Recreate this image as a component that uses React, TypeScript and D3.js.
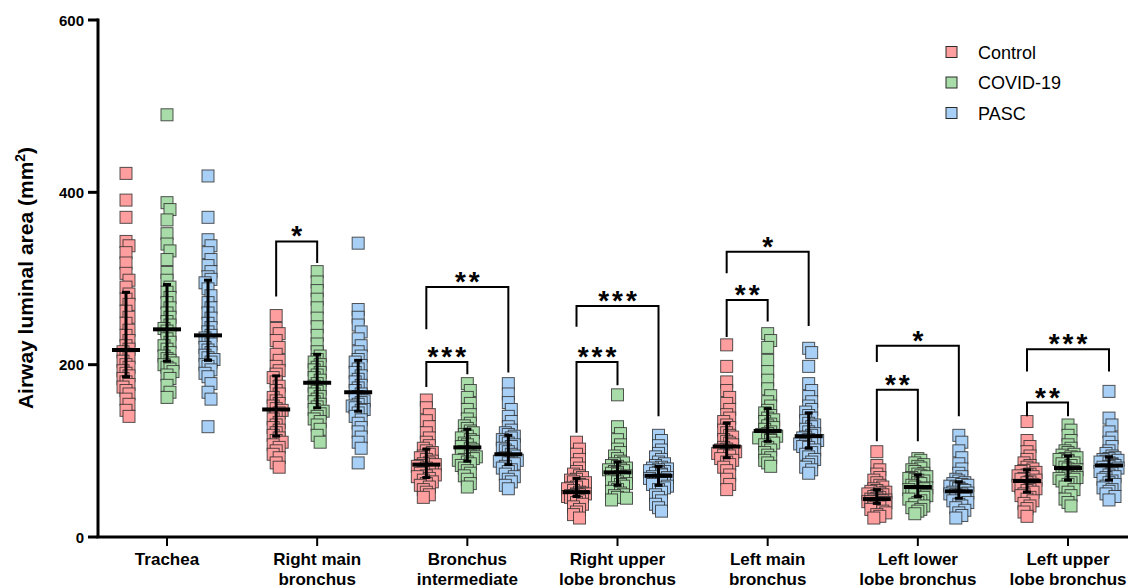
import React, { useRef, useEffect } from 'react';
import * as d3 from 'd3';

const categories = [
  'Trachea',
  'Right main\nbronchus',
  'Bronchus\nintermediate',
  'Right upper\nlobe bronchus',
  'Left main\nbronchus',
  'Left lower\nlobe bronchus',
  'Left upper\nlobe bronchus',
];
const groups = ['Control', 'COVID-19', 'PASC'];
const groupColors = ['#FF9E9E', '#A8DCA8', '#A8D0F6'];
const yTicks = [0, 200, 400, 600];

// individual values, one list per airway
const controlValues = [
  [422, 391, 371, 343, 338, 330, 318, 306, 298, 290, 282, 276, 270, 262, 255, 248, 240, 234, 228, 222, 218, 215, 212, 208, 204, 200, 197, 193, 190, 187, 184, 180, 177, 174, 170, 166, 160, 154, 147, 140],
  [257, 242, 236, 228, 220, 212, 205, 198, 193, 189, 185, 180, 175, 170, 166, 162, 158, 155, 152, 149, 147, 144, 140, 137, 133, 130, 127, 124, 121, 118, 115, 112, 110, 107, 104, 100, 96, 92, 86, 81],
  [159, 150, 142, 135, 128, 121, 115, 110, 106, 103, 100, 98, 96, 94, 92, 90, 88, 86, 85, 84, 83, 82, 80, 78, 77, 75, 74, 72, 71, 70, 68, 66, 64, 62, 60, 58, 55, 52, 49, 46],
  [110, 102, 96, 90, 85, 80, 76, 73, 71, 69, 67, 66, 64, 63, 61, 60, 58, 57, 56, 54, 52, 51, 50, 50, 49, 49, 48, 48, 47, 47, 46, 44, 42, 40, 38, 35, 32, 29, 26, 22],
  [223, 198, 180, 170, 162, 155, 148, 142, 138, 134, 130, 127, 124, 121, 118, 116, 113, 111, 109, 107, 104, 102, 101, 100, 99, 98, 97, 96, 95, 94, 91, 89, 87, 84, 81, 77, 72, 67, 61, 55],
  [99, 83, 78, 73, 69, 66, 63, 60, 58, 56, 54, 53, 52, 51, 50, 49, 48, 47, 46, 45, 44, 43, 43, 42, 42, 41, 41, 40, 40, 39, 38, 36, 35, 34, 32, 30, 28, 26, 24, 22],
  [134, 112, 105, 99, 94, 90, 86, 83, 81, 79, 77, 76, 75, 73, 72, 71, 70, 68, 67, 66, 64, 63, 61, 60, 59, 57, 56, 55, 54, 52, 50, 48, 46, 44, 42, 39, 36, 33, 29, 24],
];
const covidValues = [
  [490, 388, 380, 368, 352, 340, 332, 322, 307, 298, 290, 284, 278, 272, 266, 260, 255, 250, 246, 242, 239, 235, 230, 226, 222, 218, 214, 210, 207, 205, 202, 200, 197, 195, 192, 188, 184, 176, 168, 162],
  [308, 296, 286, 276, 266, 254, 244, 234, 224, 215, 210, 206, 203, 200, 197, 194, 191, 188, 185, 182, 178, 175, 172, 169, 166, 163, 160, 157, 154, 151, 148, 146, 143, 140, 137, 134, 130, 125, 118, 110],
  [178, 170, 162, 155, 148, 142, 137, 132, 129, 126, 123, 121, 119, 117, 115, 113, 111, 109, 107, 105, 103, 101, 99, 97, 96, 94, 93, 91, 90, 89, 87, 85, 83, 80, 77, 74, 71, 67, 62, 58],
  [165, 128, 120, 113, 107, 102, 98, 94, 91, 88, 86, 85, 83, 82, 80, 79, 78, 77, 76, 75, 74, 73, 71, 70, 68, 67, 65, 64, 62, 61, 59, 57, 55, 53, 51, 49, 48, 46, 45, 43],
  [236, 228, 220, 205, 192, 182, 172, 164, 157, 152, 147, 144, 141, 138, 136, 134, 131, 129, 127, 125, 122, 120, 119, 118, 117, 116, 115, 114, 113, 112, 109, 107, 104, 101, 98, 95, 92, 89, 86, 82],
  [91, 89, 86, 84, 82, 80, 78, 76, 74, 73, 71, 70, 69, 68, 67, 66, 65, 63, 62, 60, 58, 57, 56, 55, 53, 52, 51, 50, 49, 48, 46, 44, 42, 40, 38, 36, 34, 32, 30, 27],
  [130, 124, 118, 112, 107, 103, 100, 98, 96, 95, 93, 92, 91, 90, 89, 88, 86, 85, 83, 81, 79, 78, 76, 75, 73, 72, 70, 69, 68, 67, 65, 63, 61, 58, 55, 52, 48, 44, 40, 36],
];
const pascValues = [
  [419, 371, 345, 338, 330, 322, 315, 308, 302, 299, 295, 288, 280, 272, 266, 260, 254, 248, 243, 238, 234, 231, 228, 224, 220, 217, 214, 211, 208, 206, 203, 200, 198, 194, 190, 186, 178, 168, 160, 128],
  [341, 264, 255, 246, 238, 230, 222, 215, 210, 206, 203, 199, 195, 191, 187, 183, 180, 176, 173, 170, 166, 163, 160, 158, 156, 154, 152, 150, 148, 147, 144, 140, 136, 132, 127, 122, 116, 110, 103, 86],
  [178, 166, 156, 148, 140, 134, 128, 124, 121, 119, 117, 115, 113, 111, 109, 107, 105, 103, 101, 99, 96, 94, 92, 91, 90, 89, 88, 87, 86, 85, 82, 80, 78, 76, 73, 70, 67, 64, 60, 56],
  [118, 112, 106, 101, 97, 93, 90, 87, 85, 83, 81, 80, 79, 78, 77, 76, 75, 74, 73, 72, 70, 69, 68, 67, 66, 65, 64, 63, 62, 61, 59, 57, 55, 52, 49, 46, 42, 38, 34, 30],
  [219, 214, 198, 178, 170, 163, 157, 152, 148, 145, 141, 138, 135, 132, 130, 128, 125, 122, 120, 118, 116, 115, 113, 112, 110, 109, 108, 107, 105, 104, 101, 98, 96, 93, 90, 87, 84, 81, 78, 74],
  [118, 110, 100, 92, 85, 79, 74, 70, 67, 65, 63, 62, 61, 60, 59, 58, 57, 56, 55, 54, 52, 51, 50, 50, 49, 48, 47, 47, 46, 46, 44, 42, 40, 38, 36, 34, 31, 28, 25, 22],
  [169, 138, 130, 122, 115, 110, 105, 100, 97, 94, 92, 91, 90, 89, 88, 87, 86, 85, 84, 83, 82, 81, 80, 78, 76, 74, 72, 70, 69, 67, 65, 63, 61, 59, 57, 55, 53, 50, 47, 43],
];

// median and interquartile range
const controlMedian = [217, 148, 84, 52, 105, 44, 65];
const controlQ1 = [186, 117, 69, 47, 92, 39, 52];
const controlQ3 = [284, 187, 102, 68, 132, 55, 78];
const covidMedian = [241, 179, 104, 75, 123, 58, 80];
const covidQ1 = [204, 150, 88, 60, 111, 47, 66];
const covidQ3 = [293, 212, 125, 87, 149, 72, 94];
const pascMedian = [234, 168, 96, 71, 117, 53, 83];
const pascQ1 = [205, 146, 84, 60, 103, 45, 66];
const pascQ3 = [298, 205, 118, 82, 144, 64, 93];

// significance brackets: category, from group, to group, top, left leg end, right leg end
const brackets = [
  { cat: 1, a: 0, b: 1, top: 343, endA: 279, endB: 318, label: '*' },
  { cat: 2, a: 0, b: 1, top: 203, endA: 174, endB: 189, label: '***' },
  { cat: 2, a: 0, b: 2, top: 290, endA: 241, endB: 191, label: '**' },
  { cat: 3, a: 0, b: 1, top: 203, endA: 121, endB: 176, label: '***' },
  { cat: 3, a: 0, b: 2, top: 268, endA: 244, endB: 140, label: '***' },
  { cat: 4, a: 0, b: 1, top: 275, endA: 232, endB: 250, label: '**' },
  { cat: 4, a: 0, b: 2, top: 331, endA: 306, endB: 245, label: '*' },
  { cat: 5, a: 0, b: 1, top: 171, endA: 111, endB: 111, label: '**' },
  { cat: 5, a: 0, b: 2, top: 222, endA: 203, endB: 140, label: '*' },
  { cat: 6, a: 0, b: 1, top: 156, endA: 140, endB: 140, label: '**' },
  { cat: 6, a: 0, b: 2, top: 218, endA: 192, endB: 192, label: '***' },
];

const FONT = '"Liberation Sans", Arial, Helvetica, sans-serif';

export default function App() {
  const svgRef = useRef<SVGSVGElement>(null);

  useEffect(() => {
    const width = 1128;
    const svg = d3.select(svgRef.current);
    svg.selectAll('*').remove();

    const x = d3.scalePoint<string>().domain(categories).range([167, 1068]);
    const gx = d3.scalePoint<string>().domain(groups).range([-41, 41]);
    const y = d3.scaleLinear().domain([0, 600]).range([537, 20]);

    const allValues = [controlValues, covidValues, pascValues];
    const medians = [controlMedian, covidMedian, pascMedian];
    const q1s = [controlQ1, covidQ1, pascQ1];
    const q3s = [controlQ3, covidQ3, pascQ3];

    // simple swarm: overlapping squares pushed sideways a few px
    const swarm = (vals: number[]) => {
      const placed: { y: number; dx: number }[] = [];
      const slots = [0, 3, -3, 6, -6, 9, -9];
      return vals.map(v => {
        const py = y(v);
        let best = slots[0];
        let bestHits = Infinity;
        for (const dx of slots) {
          const hits = placed.filter(p => Math.abs(p.y - py) < 7 && Math.abs(p.dx - dx) < 3).length;
          if (hits < bestHits) { best = dx; bestHits = hits; }
          if (hits === 0) break;
        }
        placed.push({ y: py, dx: best });
        return { v, dx: best };
      });
    };

    // points
    const size = 12;
    groups.forEach((grp, gi) => {
      categories.forEach((cat, ci) => {
        const cx = (x(cat) as number) + (gx(grp) as number);
        svg.append('g')
          .selectAll('rect')
          .data(swarm(allValues[gi][ci]))
          .enter().append('rect')
          .attr('x', d => cx + d.dx - size / 2)
          .attr('y', d => y(d.v) - size / 2)
          .attr('width', size)
          .attr('height', size)
          .attr('fill', groupColors[gi])
          .attr('stroke', '#2a2a2a')
          .attr('stroke-opacity', 0.8)
          .attr('stroke-width', 1);
      });
    });

    // median + IQR
    groups.forEach((grp, gi) => {
      categories.forEach((cat, ci) => {
        const cx = (x(cat) as number) + (gx(grp) as number);
        const g = svg.append('g').attr('stroke', '#000');
        g.append('line')
          .attr('x1', cx).attr('x2', cx)
          .attr('y1', y(q1s[gi][ci])).attr('y2', y(q3s[gi][ci]))
          .attr('stroke-width', 3);
        [q1s[gi][ci], q3s[gi][ci]].forEach(q => {
          g.append('line')
            .attr('x1', cx - 4).attr('x2', cx + 4)
            .attr('y1', y(q)).attr('y2', y(q))
            .attr('stroke-width', 3);
        });
        g.append('line')
          .attr('x1', cx - 14).attr('x2', cx + 14)
          .attr('y1', y(medians[gi][ci])).attr('y2', y(medians[gi][ci]))
          .attr('stroke-width', 4);
      });
    });

    // brackets
    brackets.forEach(b => {
      const cat = categories[b.cat];
      const xa = (x(cat) as number) + (gx(groups[b.a]) as number);
      const xb = (x(cat) as number) + (gx(groups[b.b]) as number);
      const line = d3.line<[number, number]>();
      svg.append('path')
        .attr('d', line([[xa, y(b.endA)], [xa, y(b.top)], [xb, y(b.top)], [xb, y(b.endB)]]))
        .attr('fill', 'none')
        .attr('stroke', '#000')
        .attr('stroke-width', 2);
      svg.append('text')
        .attr('x', (xa + xb) / 2 + 1.5)
        .attr('y', y(b.top) + 4)
        .attr('text-anchor', 'middle')
        .attr('font-family', FONT)
        .attr('font-size', 28)
        .attr('font-weight', 700)
        .attr('letter-spacing', 3)
        .text(b.label);
    });

    // y axis
    svg.append('line')
      .attr('x1', 98).attr('x2', 98)
      .attr('y1', y(600) - 1.5).attr('y2', y(0))
      .attr('stroke', '#000').attr('stroke-width', 3);
    yTicks.forEach(t => {
      svg.append('line')
        .attr('x1', 88).attr('x2', 98)
        .attr('y1', y(t)).attr('y2', y(t))
        .attr('stroke', '#000').attr('stroke-width', 3);
      svg.append('text')
        .attr('x', 84).attr('y', y(t) + 5.5)
        .attr('text-anchor', 'end')
        .attr('font-family', FONT)
        .attr('font-size', 15)
        .attr('font-weight', 700)
        .text(t);
    });

    // x axis
    svg.append('line')
      .attr('x1', 96.5).attr('x2', width)
      .attr('y1', y(0)).attr('y2', y(0))
      .attr('stroke', '#000').attr('stroke-width', 3);
    categories.forEach(cat => {
      const cx = x(cat) as number;
      svg.append('line')
        .attr('x1', cx).attr('x2', cx)
        .attr('y1', y(0)).attr('y2', y(0) + 9)
        .attr('stroke', '#000').attr('stroke-width', 2);
      const t = svg.append('text')
        .attr('text-anchor', 'middle')
        .attr('font-family', FONT)
        .attr('font-size', 17)
        .attr('font-weight', 700);
      cat.split('\n').forEach((ln, i) => {
        t.append('tspan').attr('x', cx).attr('y', 565 + i * 20).text(ln);
      });
    });

    // y label
    const yl = svg.append('text')
      .attr('transform', 'translate(33, 278) rotate(-90)')
      .attr('text-anchor', 'middle')
      .attr('font-family', FONT)
      .attr('font-size', 21)
      .attr('font-weight', 700);
    yl.append('tspan').text('Airway luminal area (mm');
    yl.append('tspan').attr('font-size', 14).attr('dy', -8).text('2');
    yl.append('tspan').attr('dy', 8).text(')');

    // legend
    groups.forEach((grp, gi) => {
      const ly = 52 + gi * 30.5;
      svg.append('rect')
        .attr('x', 946).attr('y', ly - 5.5)
        .attr('width', 11).attr('height', 11)
        .attr('fill', groupColors[gi])
        .attr('stroke', '#2a2a2a').attr('stroke-width', 1);
      svg.append('text')
        .attr('x', 978).attr('y', ly + 6.5)
        .attr('font-family', FONT)
        .attr('font-size', 18)
        .text(grp);
    });
  }, []);

  return (
    <svg
      ref={svgRef}
      width={1128}
      height={588}
      style={{ position: 'absolute', left: 0, top: 0, background: '#fff' }}
    />
  );
}
